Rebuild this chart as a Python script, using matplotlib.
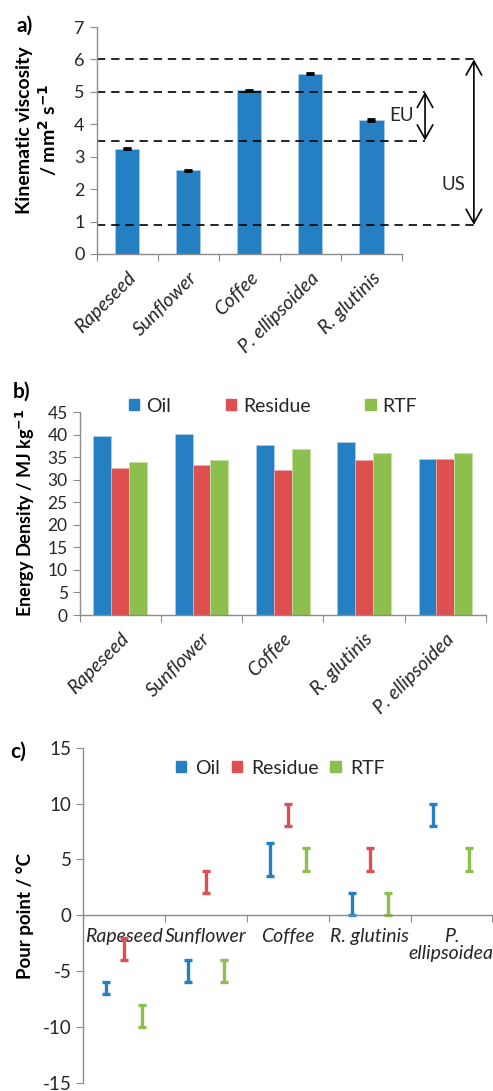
#!/usr/bin/env python
"""Viscosity, energy density and pour point of the oils (3 panels)"""

import matplotlib
matplotlib.use("Agg")
import numpy as np
import matplotlib.pyplot as plt
from matplotlib.patches import Patch

plt.rcParams['font.family'] = ['Lato', 'DejaVu Sans']
plt.rcParams['axes.unicode_minus'] = False

BLUE = '#2480c2'
RED = '#de4f4f'
GREEN = '#8dbf4e'
GREY = '#8c8c8c'
TXT = '#262626'

# ---- panel a data
visc_names = ['Rapeseed', 'Sunflower', 'Coffee', 'P. ellipsoidea', 'R. glutinis']
visc_vals = [3.25, 2.58, 5.05, 5.56, 4.13]
visc_err = [0.02, 0.02, 0.02, 0.02, 0.02]
eu_limits = [3.5, 5.0]
us_limits = [0.9, 6.0]

# ---- panel b data
ed_names = ['Rapeseed', 'Sunflower', 'Coffee', 'R. glutinis', 'P. ellipsoidea']
ed_oil = [39.8, 40.1, 37.7, 38.3, 34.7]
ed_residue = [32.6, 33.2, 32.2, 34.4, 34.7]
ed_rtf = [33.9, 34.4, 36.9, 35.9, 36.0]

# ---- panel c data (ranges, low / high)
pp_names = ['Rapeseed', 'Sunflower', 'Coffee', 'R. glutinis', 'P.\nellipsoidea']
pp_oil_lo = [-7, -6, 3.5, 0, 8]
pp_oil_hi = [-6, -4, 6.5, 2, 10]
pp_res_lo = [-4, 2, 8, 4, np.nan]
pp_res_hi = [-2, 4, 10, 6, np.nan]
pp_rtf_lo = [-10, -6, 4, 0, 4]
pp_rtf_hi = [-8, -4, 6, 2, 6]

W, H = 493, 1091
fig = plt.figure(figsize=(W / 100, H / 100), dpi=100)


def add_ax(left, top, right, bottom):
    return fig.add_axes([left / W, 1 - bottom / H, (right - left) / W, (bottom - top) / H])


def style(ax, n):
    for s in ('top', 'right'):
        ax.spines[s].set_visible(False)
    for s in ('left', 'bottom'):
        ax.spines[s].set_color(GREY)
        ax.spines[s].set_linewidth(1.0)
    ax.spines['bottom'].set_bounds(-0.5, n - 0.5)
    ax.set_xticks(np.arange(n + 1) - 0.5)
    ax.set_xticklabels([])
    ax.tick_params(which='major', direction='out', length=5, color=GREY, labelcolor=TXT)
    ax.tick_params(axis='x', which='minor', length=0)


def fig_text(x, y, s, **kw):
    fig.text(x / W, 1 - y / H, s, **kw)


####### a) kinematic viscosity
ax = add_ax(96.5, 27, 480, 254)
n = len(visc_names)
x = np.arange(n)
ax.bar(x, visc_vals, width=0.4, color=BLUE, edgecolor='#a9cbe8', linewidth=0.6)
ax.errorbar(x, visc_vals, yerr=visc_err, fmt='none', ecolor='black',
            elinewidth=1.5, capsize=3, capthick=2)
ax.set_xlim(-0.5, 5.78)
ax.set_ylim(0, 7)
ax.set_yticks(range(8))
style(ax, n)
ax.set_xticks(x, visc_names, minor=True)
ax.tick_params(axis='x', which='minor', labelsize=14, pad=11, labelcolor=TXT)
for lab in ax.get_xticklabels(minor=True):
    lab.set(rotation=45, ha='right', rotation_mode='anchor', style='italic')
ax.tick_params(axis='y', labelsize=13)

x_eu, x_us = 4.88, 5.68
for y in eu_limits:
    ax.plot([-0.5, x_eu], [y, y], color='black', ls=(0, (5, 3.5)), lw=1.2, clip_on=False)
for y in us_limits:
    ax.plot([-0.5, x_us], [y, y], color='black', ls=(0, (5, 3.5)), lw=1.2, clip_on=False)
arrow = dict(arrowstyle='<->,head_length=0.5,head_width=0.28', lw=1.2,
             color='black', shrinkA=0, shrinkB=0, mutation_scale=20)
ax.annotate('', xy=(x_eu, eu_limits[1]), xytext=(x_eu, eu_limits[0]), arrowprops=arrow)
ax.annotate('', xy=(x_us, us_limits[1]), xytext=(x_us, us_limits[0]), arrowprops=arrow)
ax.text(4.5, 4.28, 'EU', ha='center', va='center', fontsize=13.5, color=TXT)
ax.text(5.35, 2.15, 'US', ha='center', va='center', fontsize=13.5, color=TXT)

fig_text(25, 130, 'Kinematic viscosity', rotation=90, ha='center', va='center',
         fontsize=14, fontweight='bold')
fig_text(48, 130, '/ mm$^\\mathbf{2}$ s$^\\mathbf{-1}$', rotation=90, ha='center',
         va='center', fontsize=14, fontweight='bold')
fig_text(25, 26, 'a)', ha='center', va='center', fontsize=15, fontweight='bold')

####### b) energy density
ax = add_ax(79.5, 412.3, 486, 615)
n = len(ed_names)
x = np.arange(n)
bw = 0.22
ax.bar(x - bw, ed_oil, width=bw, color=BLUE, edgecolor='#a9cbe8', linewidth=0.6)
ax.bar(x, ed_residue, width=bw, color=RED, edgecolor='#f0a8a8', linewidth=0.6)
ax.bar(x + bw, ed_rtf, width=bw, color=GREEN, edgecolor='#c6e0a4', linewidth=0.6)
ax.set_xlim(-0.5, 4.5)
ax.set_ylim(0, 45)
ax.set_yticks(range(0, 46, 5))
style(ax, n)
ax.set_xticks(x, ed_names, minor=True)
ax.tick_params(axis='x', which='minor', labelsize=14, pad=11, labelcolor=TXT)
for lab in ax.get_xticklabels(minor=True):
    lab.set(rotation=45, ha='right', rotation_mode='anchor', style='italic')
ax.tick_params(axis='y', labelsize=12.5)

fig_text(25, 513, 'Energy Density / MJ kg$^\\mathbf{-1}$', rotation=90, ha='center',
         va='center', fontsize=13, fontweight='bold')
fig_text(22, 392, 'b)', ha='center', va='center', fontsize=15, fontweight='bold')

handles = [Patch(color=BLUE, label='Oil'), Patch(color=RED, label='Residue'),
           Patch(color=GREEN, label='RTF')]
fig.legend(handles=handles, loc='center', bbox_to_anchor=(273 / W, 1 - 406 / H),
           ncol=3, frameon=False, fontsize=14, handlelength=0.55, handleheight=0.55,
           handletextpad=0.35, columnspacing=2.8, labelcolor=TXT)

####### c) pour point
ax = add_ax(83.3, 747.7, 492.3, 1083)
n = len(pp_names)
x = np.arange(n)
for off, lo, hi, c in ((-bw, pp_oil_lo, pp_oil_hi, BLUE),
                       (0, pp_res_lo, pp_res_hi, RED),
                       (bw, pp_rtf_lo, pp_rtf_hi, GREEN)):
    lo = np.array(lo, dtype=float)
    hi = np.array(hi, dtype=float)
    ax.errorbar(x + off, (lo + hi) / 2, yerr=(hi - lo) / 2, fmt='none', ecolor=c,
                elinewidth=2.4, capsize=3, capthick=2.4)
ax.set_xlim(-0.5, 4.5)
ax.set_ylim(-15, 15)
ax.set_yticks(range(-15, 16, 5))
style(ax, n)
ax.spines['bottom'].set_position(('data', 0))
ax.set_xticks(x, pp_names, minor=True)
ax.tick_params(axis='x', which='minor', labelsize=14, pad=9, labelcolor=TXT)
for lab in ax.get_xticklabels(minor=True):
    lab.set(style='italic', va='top', linespacing=1.0)
ax.tick_params(axis='y', labelsize=13.5)

fig_text(25, 916, 'Pour point / °C', rotation=90, ha='center', va='center',
         fontsize=13.5, fontweight='bold')
fig_text(18, 752, 'c)', ha='center', va='center', fontsize=15, fontweight='bold')

fig.legend(handles=handles, loc='center', bbox_to_anchor=(280 / W, 1 - 768 / H),
           ncol=3, frameon=False, fontsize=14, handlelength=0.55, handleheight=0.55,
           handletextpad=0.45, columnspacing=0.6, labelcolor=TXT)

fig.savefig('out.png', dpi=100)
